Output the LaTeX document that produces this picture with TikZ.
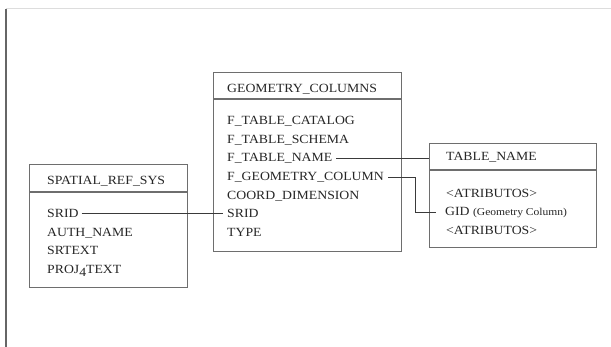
\documentclass[tikz,border=0pt]{standalone}
\usepackage{fontspec}
\setmainfont{Liberation Serif}[FakeStretch=1.1]
\definecolor{boxgray}{HTML}{6E6E6E}
\definecolor{wiregray}{HTML}{3A3A3A}
\definecolor{inkgray}{HTML}{262626}
\definecolor{framegray}{HTML}{666666}
\definecolor{rulegray}{HTML}{DDDDDD}
% hanging figure four, set below the baseline like an old-style numeral
\newcommand{\osfour}{\raisebox{-2.6pt}{4}}
\begin{document}
\begin{tikzpicture}[x=1pt,y=-1pt,
  tbl/.style={draw=boxgray,line width=1.2pt,rectangle,inner sep=0pt,anchor=north west},
  divider/.style={draw=boxgray,line width=1.2pt},
  fld/.style={inner sep=0pt,anchor=base west,text=inkgray,font=\fontsize{12.5pt}{14pt}\selectfont},
  wire/.style={draw=wiregray,line width=0.9pt}]
  \useasboundingbox (0,0) rectangle (611,347);
  \fill[white] (0,0) rectangle (611,347);

  % page frame: faint top rule and left margin line
  \coordinate (ruleL) at (6,9);
  \coordinate (ruleR) at (611,9);
  \coordinate (marginB) at (6,347);
  \draw[rulegray,line width=1pt] (ruleL) -- (ruleR);
  \draw[framegray,line width=1.4pt] (ruleL) -- (marginB);

  % ---- SPATIAL_REF_SYS ----
  \node[tbl,minimum width=158pt,minimum height=123pt] (srs) at (29,164) {};
  \draw[divider] ([yshift=-28pt]srs.north west) -- ([yshift=-28pt]srs.north east);
  \node[fld] (srsHead) at (47,184.5) {SPATIAL\_REF\_SYS};
  \node[fld] (srsSrid) at (47,217.6) {SRID};
  \node[fld] (srsAuth) at (47,236.3) {AUTH\_NAME};
  \node[fld] (srsText) at (47,255) {SRTEXT};
  \node[fld] (srsProj) at (47,273.7) {PROJ\osfour TEXT};

  % ---- GEOMETRY_COLUMNS ----
  \node[tbl,minimum width=188pt,minimum height=179pt] (geo) at (213,72) {};
  \draw[divider] ([yshift=-27pt]geo.north west) -- ([yshift=-27pt]geo.north east);
  \node[fld] (geoHead) at (227,92.7) {GEOMETRY\_COLUMNS};
  \node[fld] (geoCat) at (227,124.5) {F\_TABLE\_CATALOG};
  \node[fld] (geoSch) at (227,143.2) {F\_TABLE\_SCHEMA};
  \node[fld] (geoTab) at (227,161.9) {F\_TABLE\_NAME};
  \node[fld] (geoCol) at (227,180.6) {F\_GEOMETRY\_COLUMN};
  \node[fld] (geoDim) at (227,199.3) {COORD\_DIMENSION};
  \node[fld] (geoSrid) at (227,217.6) {SRID};
  \node[fld] (geoType) at (227,236.3) {TYPE};

  % ---- TABLE_NAME ----
  \node[tbl,minimum width=167pt,minimum height=104pt] (tn) at (429,143) {};
  \draw[divider] ([yshift=-27pt]tn.north west) -- ([yshift=-27pt]tn.north east);
  \node[fld] (tnHead) at (446,160.7) {TABLE\_NAME};
  \node[fld] (tnAttA) at (446,197.2) {<ATRIBUTOS>};
  \node[fld] (tnGid) at (445,215.7) {GID {\fontsize{10.5pt}{12pt}\selectfont(Geometry Column)}};
  \node[fld] (tnAttB) at (446,234.2) {<ATRIBUTOS>};

  % ---- links ----
  \draw[wire] ([xshift=3pt]srsSrid.east) -- ([xshift=-4pt]geoSrid.west);
  \draw[wire] ([xshift=4pt]geoTab.east) -- (geoTab.east -| tn.west);
  \coordinate (bend) at (415,0);
  \draw[wire] ([xshift=4pt]geoCol.east) -| (bend |- tnGid.west) -- ([xshift=-9pt]tnGid.west);
\end{tikzpicture}
\end{document}
